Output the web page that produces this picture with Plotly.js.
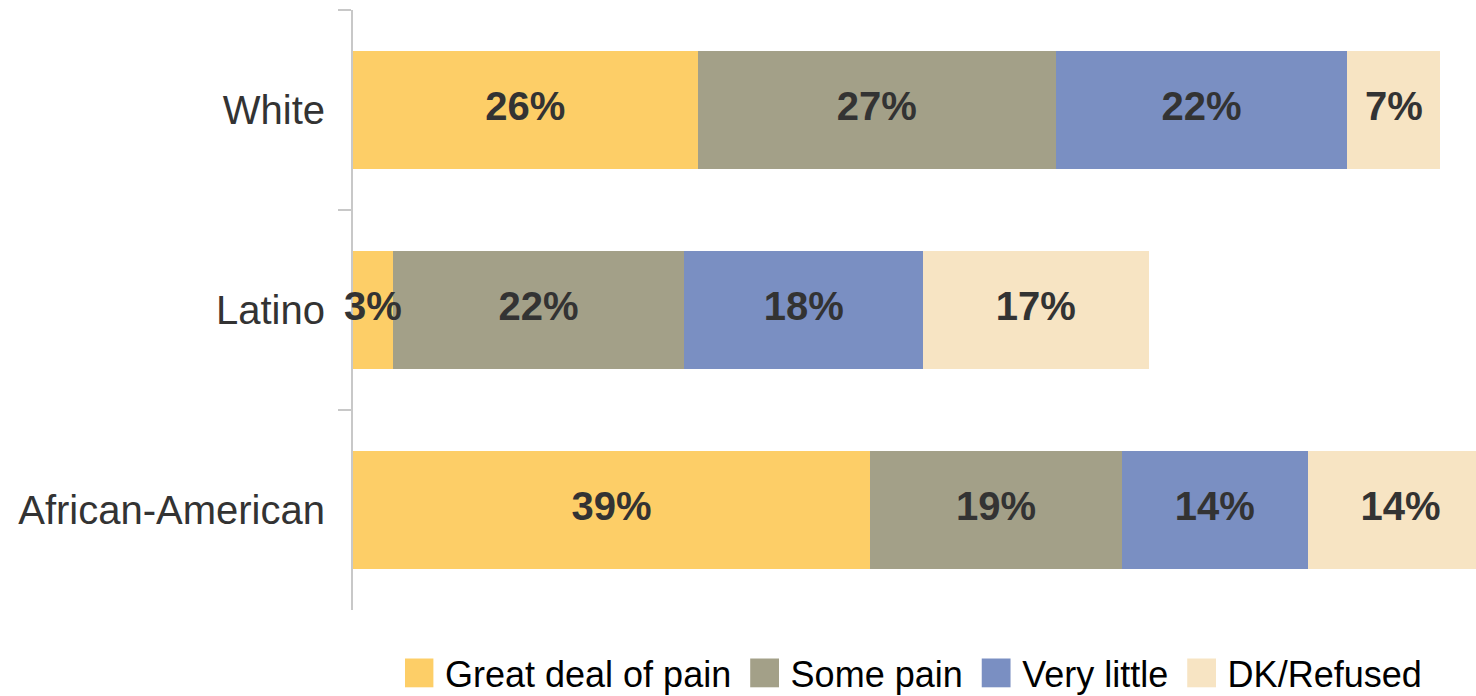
<!DOCTYPE html>
<html>
<head>
<meta charset="utf-8">
<script src="https://cdn.plot.ly/plotly-3.0.1.min.js"></script>
<style>
  html, body { margin: 0; padding: 0; background: #fff; }
  #chart { width: 1476px; height: 696px; }
</style>
</head>
<body>
<div id="chart"></div>
<script>
// Groups, top to bottom
const groups = ['White', 'Latino', 'African-American'];

// Share of each answer, in percent, per group
const seriesNames = ['Great deal of pain', 'Some pain', 'Very little', 'DK/Refused'];
const greatDeal = [26, 3, 39];
const somePain = [27, 22, 19];
const veryLittle = [22, 18, 14];
const dkRefused = [7, 17, 14];

const seriesValues = [greatDeal, somePain, veryLittle, dkRefused];
const seriesColors = ['#FDCE67', '#A3A088', '#7A8FC2', '#F7E4C3'];

const labelFont = '"Liberation Sans", Arial, sans-serif';

const data = seriesValues.map((vals, i) => ({
    type: 'bar',
    orientation: 'h',
    // two thin spaces give the legend entries the wider spacing of the original
    name: seriesNames[i] + '\u2009\u2009',
    y: groups,
    x: vals,
    width: 0.59,
    marker: { color: seriesColors[i], line: { width: 0 } },
    hoverinfo: 'none'
}));

// Value labels go in one text trace on top of all bars, at the middle of each
// segment, so the "3%" that overflows its thin bar is not hidden by the next one
const labelX = [], labelY = [], labelText = [];
groups.forEach((g, j) => {
    let start = 0;
    seriesValues.forEach(vals => {
        labelX.push(start + vals[j] / 2);
        labelY.push(g);
        labelText.push(vals[j] + '%');
        start += vals[j];
    });
});

data.push({
    type: 'scatter',
    mode: 'text',
    x: labelX,
    y: labelY,
    text: labelText,
    textposition: 'middle center',
    textfont: { family: labelFont, size: 40, color: '#333333', weight: 'bold' },
    cliponaxis: false,
    showlegend: false,
    hoverinfo: 'none'
});

const layout = {
    barmode: 'stack',
    width: 1476,
    height: 696,
    margin: { l: 353, r: 0, t: 10, b: 86, autoexpand: false },
    paper_bgcolor: '#ffffff',
    plot_bgcolor: '#ffffff',
    showlegend: true,
    xaxis: {
        range: [0, 84.7],
        visible: false,
        fixedrange: true
    },
    yaxis: {
        type: 'category',
        categoryorder: 'array',
        categoryarray: groups,
        autorange: 'reversed',
        layer: 'below traces',
        showline: true,
        linecolor: '#c8c8c8',
        linewidth: 2,
        ticks: 'outside',
        tickson: 'boundaries',
        ticklen: 13,
        tickwidth: 2,
        tickcolor: '#c8c8c8',
        showgrid: false,
        zeroline: false,
        ticklabelstandoff: 18,
        tickfont: { family: labelFont, size: 40, color: '#333333' },
        fixedrange: true
    },
    legend: {
        orientation: 'h',
        x: 0.0463,
        xanchor: 'left',
        y: -0.105,
        yanchor: 'middle',
        font: { family: labelFont, size: 36, color: '#000000' },
        traceorder: 'normal',
        itemclick: false,
        itemdoubleclick: false
    }
};

Plotly.newPlot('chart', data, layout, { displayModeBar: false, staticPlot: true }).then(gd => {
    // enlarge the legend swatches to match the big squares of the original
    gd.querySelectorAll('.legend .legendpoints path').forEach(p => {
        p.setAttribute('transform', 'translate(14,0) scale(2.4)');
    });
});
</script>
</body>
</html>
